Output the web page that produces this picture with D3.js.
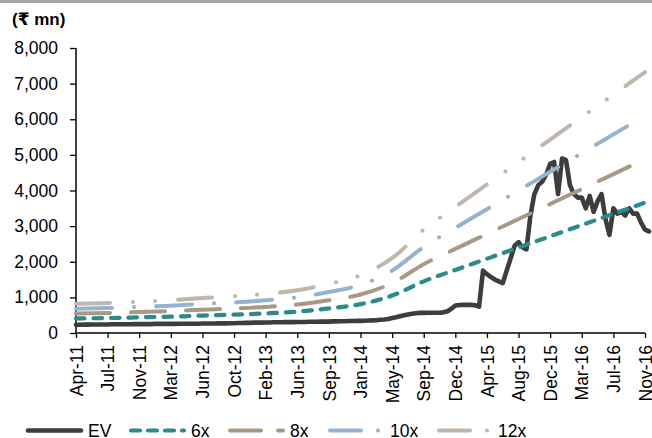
<!DOCTYPE html>
<html>
<head>
<meta charset="utf-8">
<script src="https://cdn.jsdelivr.net/npm/d3@7"></script>
<style>
  html, body { margin: 0; padding: 0; background: #fff; }
  svg { display: block; font-family: "Liberation Sans", Arial, sans-serif; }
</style>
</head>
<body>
<svg id="chart" width="652" height="438"></svg>
<script>
// ---- data ----
const tickLabels = ["Apr-11","Jul-11","Nov-11","Mar-12","Jun-12","Oct-12","Feb-13","Jun-13","Sep-13","Jan-14","May-14","Sep-14","Dec-14","Apr-15","Aug-15","Dec-15","Mar-16","Jul-16","Nov-16"];
const yTicks = [0,1000,2000,3000,4000,5000,6000,7000,8000];

// EV sampled every 1/8 of a label interval
const evValues = [
  230,230,235,235,240,240,240,240,
  240,245,245,245,245,245,245,250,
  250,250,250,250,255,255,255,255,
  255,255,260,260,260,260,260,260,
  265,265,265,265,270,270,270,275,
  275,280,280,285,285,290,290,290,
  295,295,300,300,300,305,305,305,
  310,310,310,315,315,315,320,320,
  320,325,325,330,330,335,335,340,
  340,345,350,355,360,370,380,395,
  420,440,470,500,520,540,555,565,
  565,570,570,570,570,580,610,680,
  770,785,790,790,790,780,740,1750,
  1650,1570,1500,1450,1400,1750,2100,2450,
  2550,2400,2350,3300,3900,4150,4250,4450,
  4750,4800,3900,4900,4850,4150,3900,3800,
  3800,3500,3850,3400,3700,3900,3200,2750,
  3500,3350,3400,3300,3500,3350,3350,3100,
  2900,2850
];
const evStep = 1/8;

// P/E band lines, one value per axis label
const band6x  = [410,420,440,460,490,515,550,600,690,810,1050,1450,1770,2085,2400,2715,3030,3345,3660];
const band8x  = [547,560,587,613,653,687,733,800,920,1080,1400,1933,2360,2780,3200,3620,4040,4460,4880];
const band10x = [683,700,733,767,817,858,917,1000,1150,1350,1750,2417,2950,3475,4000,4525,5050,5575,6100];
const band12x = [820,840,880,920,980,1030,1100,1200,1380,1620,2100,2900,3540,4170,4800,5430,6060,6690,7320];

const seriesNames = ["EV","6x","8x","10x","12x"];

// ---- styles ----
const styles = {
  "EV":  {color:"#3d3d3b", width:4.6, dash:null,                  legendDash:null},
  "6x":  {color:"#2b8a8c", width:4.2, dash:"8.5,9",               legendDash:"9,8"},
  "8x":  {color:"#a89985", width:4,   dash:"34,21",               legendDash:"31,17"},
  "10x": {color:"#95b3cf", width:4,   dash:"36,22,0.1,22",        legendDash:"31,17,0.1,50"},
  "12x": {color:"#c0b6a9", width:4,   dash:"34,23,0.1,22,0.1,23", legendDash:"31,17,0.1,50"}
};

const svg = d3.select("#chart");
const W = 652, H = 438;
const mLeft = 76, mRight = 645, mTop = 48, mBottom = 333;

svg.append("rect").attr("x",0).attr("y",0).attr("width",W).attr("height",3).attr("fill","#a6a6a6");

const x = d3.scaleLinear().domain([0, tickLabels.length - 1]).range([mLeft, mRight]);
const y = d3.scaleLinear().domain([0, 8000]).range([mBottom, mTop]);

// title
svg.append("text").attr("x",12).attr("y",25)
  .attr("font-size",17).attr("font-weight","bold").attr("fill","#000")
  .style("font-family","'Liberation Sans', 'DejaVu Sans', Arial, sans-serif")
  .text("(₹ mn)");

// y axis
const yAxis = svg.append("g").attr("transform",`translate(${mLeft},0)`)
  .call(d3.axisLeft(y).tickValues(yTicks).tickFormat(d3.format(",")).tickSize(6).tickPadding(12));
yAxis.select(".domain").attr("stroke","#000").attr("stroke-width",1.5).attr("d",`M0,${mTop}V${mBottom}`);
yAxis.selectAll(".tick line").attr("stroke","#000").attr("stroke-width",1.3);
yAxis.selectAll("text").attr("font-size",17.5).attr("fill","#000").style("font-family","'Liberation Sans', Arial, sans-serif");

// x axis
const xAxis = svg.append("g").attr("transform",`translate(0,${mBottom})`)
  .call(d3.axisBottom(x).tickValues(d3.range(tickLabels.length)).tickFormat(i => tickLabels[i]).tickSize(5).tickPadding(0));
xAxis.select(".domain").attr("stroke","#000").attr("stroke-width",1.5).attr("d",`M${mLeft},0H${mRight}`);
xAxis.selectAll(".tick line").attr("stroke","#000").attr("stroke-width",1.3);
xAxis.selectAll("text")
  .attr("font-size",17.5).attr("fill","#000").style("font-family","'Liberation Sans', Arial, sans-serif")
  .attr("text-anchor","end")
  .attr("transform","rotate(-90)")
  .attr("x",-12).attr("y",0).attr("dy","0.35em");

// lines
const plot = svg.append("g");
const evLine = d3.line().x(d => x(d[0])).y(d => y(d[1]));
const bandLine = d3.line().x(d => x(d[0])).y(d => y(d[1])).curve(d3.curveMonotoneX);

const evData = evValues.map((v,i) => [i*evStep, v]);
const bands = {"6x":band6x, "8x":band8x, "10x":band10x, "12x":band12x};

function drawLine(name, data, gen) {
  const s = styles[name];
  const p = plot.append("path").datum(data)
    .attr("d", gen)
    .attr("fill","none")
    .attr("stroke", s.color)
    .attr("stroke-width", s.width)
    .attr("stroke-linecap","round")
    .attr("stroke-linejoin","round");
  if (s.dash) p.attr("stroke-dasharray", s.dash);
}
drawLine("EV", evData, evLine);
["6x","8x","10x","12x"].forEach(n => drawLine(n, bands[n].map((v,i)=>[i,v]), bandLine));

// legend
const legendItems = [
  {name:"EV",  x1:28,  x2:81,  tx:88},
  {name:"6x",  x1:131, x2:184, tx:191},
  {name:"8x",  x1:230, x2:283, tx:290},
  {name:"10x", x1:330, x2:380, tx:390},
  {name:"12x", x1:439, x2:489, tx:498}
];
const lg = svg.append("g");
const ly = 430.5;
legendItems.forEach(it => {
  const s = styles[it.name];
  const l = lg.append("line").attr("x1",it.x1).attr("x2",it.x2).attr("y1",ly).attr("y2",ly)
    .attr("stroke",s.color).attr("stroke-width",s.width).attr("stroke-linecap","round");
  if (s.legendDash) l.attr("stroke-dasharray", s.legendDash);
  lg.append("text").attr("x",it.tx).attr("y",ly).attr("dy","0.35em")
    .attr("font-size",17.5).attr("fill","#000").style("font-family","'Liberation Sans', Arial, sans-serif")
    .text(it.name);
});
</script>
</body>
</html>
